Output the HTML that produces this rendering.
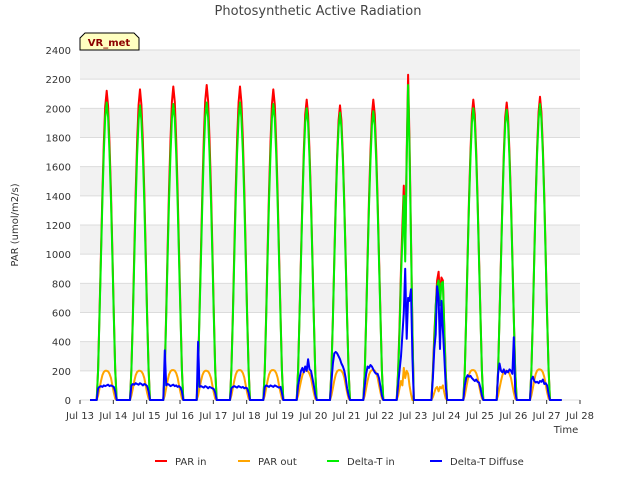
<!DOCTYPE html>
<html><head><meta charset="utf-8"><style>
body{margin:0;background:#fff;font-family:"DejaVu Sans",sans-serif}
svg text{font-family:"DejaVu Sans",sans-serif}
</style></head><body>
<svg id="c" width="640" height="480" xmlns="http://www.w3.org/2000/svg">
<rect width="640" height="480" fill="#fff"/>
<text x="318" y="15" text-anchor="middle" font-size="13" fill="#444">Photosynthetic Active Radiation</text>
<g id="bands"></g><g id="grid"></g><g id="series"></g><g id="axes"></g>
<text transform="translate(18,225) rotate(-90)" text-anchor="middle" font-size="10" fill="#333">PAR (umol/m2/s)</text>
<text x="566" y="433" text-anchor="middle" font-size="10" fill="#333">Time</text>
<g>
<path d="M80,50 L80,38 L85,33 L134,33 L139,38 L139,50 Z" fill="#ffffc0" stroke="#000" stroke-width="1"/>
<text x="109" y="46" text-anchor="middle" font-size="10" font-weight="bold" fill="#8b0000">VR_met</text>
</g>
<g id="legend"></g>
</svg>
<script>
const yTicks=[0,200,400,600,800,1000,1200,1400,1600,1800,2000,2200,2400];
const xTickLabels=["Jul 13","Jul 14","Jul 15","Jul 16","Jul 17","Jul 18","Jul 19","Jul 20","Jul 21","Jul 22","Jul 23","Jul 24","Jul 25","Jul 26","Jul 27","Jul 28"];
const dayStarts=[13,14,15,16,17,18,19,20,21,22,23,24,25,26];
const parInPeak=[2120,2130,2150,2160,2150,2130,2060,2020,2060,null,null,2060,2040,2080];
const deltaInPeak=[2040,2020,2030,2040,2040,2030,2000,1970,1980,null,null,2000,1990,2030];
const parOutPeak=[200,200,205,200,205,205,200,205,205,null,null,205,200,210];
const profile=[0,0.1,0.28,0.48,0.67,0.83,0.95,1,0.95,0.83,0.67,0.48,0.28,0.1,0];
const outProfile=[0,0.15,0.4,0.65,0.85,0.96,1,1,0.98,0.9,0.75,0.5,0.25,0.05,0];
const parInD22=[0,200,500,900,1200,1470,1000,1700,2230,1780,1120,500,0,0,0];
const deltaInD22=[0,180,450,850,1100,1400,950,1650,2160,1720,1080,480,0,0,0];
const parOutD22=[0,30,80,130,100,220,150,200,180,100,40,0,0,0,0];
const parInD23=[0,0,200,450,640,820,880,700,840,820,500,200,0,0,0];
const deltaInD23=[0,0,180,400,640,780,820,650,800,810,480,180,0,0,0];
const parOutD23=[0,0,20,50,80,90,60,90,80,100,50,10,0,0,0];
const diffuse=[
[0,80,90,95,90,100,95,100,105,95,100,95,90,60,0],
[0,100,110,105,115,110,105,115,110,100,110,105,95,60,0],
[0,340,100,110,105,95,100,105,95,100,90,95,85,60,0],
[0,400,90,95,90,85,95,90,80,90,85,80,75,50,0],
[0,80,90,95,90,85,95,90,85,90,80,85,80,50,0],
[0,90,100,95,90,100,95,90,100,95,90,85,90,50,0],
[0,100,150,200,220,190,230,200,280,210,200,150,100,40,0],
[0,120,250,320,330,320,300,280,250,230,200,150,80,30,0],
[0,100,180,230,220,240,230,210,190,180,180,150,90,30,0],
[0,100,200,300,450,600,900,420,700,680,760,300,0,0,0],
[0,0,150,350,450,780,700,350,680,480,300,100,0,0,0],
[0,100,150,170,160,165,150,140,130,140,125,120,80,30,0],
[0,180,250,200,190,210,180,200,190,210,200,180,430,60,0],
[0,140,160,130,120,125,115,130,125,140,110,115,100,40,0]
];
const ns="http://www.w3.org/2000/svg";
const X0=80,X1=580,Y0=400,Y1=50;
const xs=d=>X0+(d-13)/15*(X1-X0);
const ys=v=>Y0-v/2400*(Y0-Y1);
function mk(tag,attrs,parent){const e=document.createElementNS(ns,tag);for(const k in attrs)e.setAttribute(k,attrs[k]);parent.appendChild(e);return e;}
const bands=document.getElementById('bands'),grid=document.getElementById('grid'),axes=document.getElementById('axes'),ser=document.getElementById('series');
mk('rect',{x:X0,y:Y1,width:X1-X0,height:Y0-Y1,fill:'#fff'},bands);
for(let v=200;v<2400;v+=400){const r=mk('rect',{x:X0,y:ys(v+200),width:X1-X0,height:ys(v)-ys(v+200),fill:'#f2f2f2'},bands);

}
yTicks.forEach(v=>{const l=mk('line',{x1:X0,x2:X1,y1:ys(v),y2:ys(v),stroke:'#dcdcdc','stroke-width':1},grid);


const t=mk('text',{x:X0-9,y:ys(v)+4,'text-anchor':'end','font-size':10,fill:'#333'},axes);t.textContent=v;

});
xTickLabels.forEach((s,i)=>{const x=xs(13+i);mk('line',{x1:x,x2:x,y1:Y0,y2:Y0+4,stroke:'#333'},axes);
const t=mk('text',{x:x,y:Y0+19,'text-anchor':'middle','font-size':10,fill:'#333'},axes);t.textContent=s;

});
function build(getDay){const pts=[[13.3,0]];dayStarts.forEach((d,i)=>{const vals=getDay(i);vals.forEach((v,h)=>pts.push([d+0.5+h*0.6/14,v]));});pts.push([27.45,0]);return pts;}
const pIn=build(i=>i===9?parInD22:i===10?parInD23:profile.map(p=>p*parInPeak[i]));
const dIn=build(i=>i===9?deltaInD22:i===10?deltaInD23:profile.map(p=>p*deltaInPeak[i]));
const pOut=build(i=>i===9?parOutD22:i===10?parOutD23:outProfile.map(p=>p*parOutPeak[i]));
const dif=build(i=>diffuse[i]);
function line(pts,color,name){const p=mk('polyline',{points:pts.map(q=>xs(q[0]).toFixed(1)+','+ys(q[1]).toFixed(1)).join(' '),fill:'none',stroke:color,'stroke-width':2,'stroke-linejoin':'round'},ser);

}
line(pIn,'#ff0000','par-in-line');line(pOut,'#ffa500','par-out-line');line(dIn,'#00ee00','delta-t-in-line');line(dif,'#0000ff','delta-t-diffuse-line');
const leg=document.getElementById('legend');
const items=[["PAR in","#ff0000",155],["PAR out","#ffa500",238],["Delta-T in","#00ee00",327],["Delta-T Diffuse","#0000ff",430]];
items.forEach(it=>{const g=mk('g',{},leg);


mk('line',{x1:it[2],x2:it[2]+12,y1:461,y2:461,stroke:it[1],'stroke-width':2},g);
const t=mk('text',{x:it[2]+20,y:465,'font-size':10,fill:'#333'},g);t.textContent=it[0];});
</script>
</body></html>
